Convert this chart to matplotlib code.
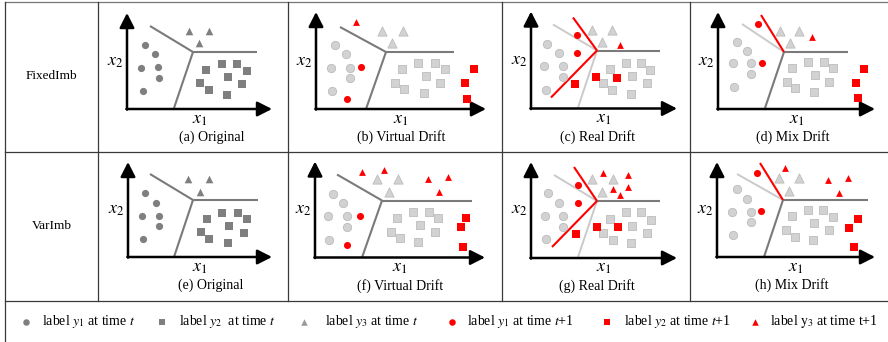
import matplotlib
matplotlib.use('Agg')
import matplotlib.pyplot as plt
import matplotlib.transforms as mtransforms

plt.rcParams['font.family'] = ['Liberation Serif', 'DejaVu Serif']
plt.rcParams['mathtext.fontset'] = 'stix'

# ---- data: each panel in its own units, origin at the axes corner, y up ----
row_labels = ['FixedImb', 'VarImb']
captions = ['(a) Original', '(b) Virtual Drift', '(c) Real Drift', '(d) Mix Drift',
            '(e) Original', '(f) Virtual Drift', '(g) Real Drift', '(h) Mix Drift']

panel_a = dict(
    circles=[(18, 64), (28, 55), (14, 41), (31, 42), (32, 31), (16, 18)],
    triangles=[(62, 78), (82, 78), (72, 66)],
    squares=[(79, 39), (95, 45), (110, 45), (120, 38), (101, 32), (73, 26), (82, 19), (115, 25), (100, 14)],
    junction=(66, 57), dark=[(23, 83), (130, 57), (47, 1)],
)
panel_b = dict(
    circles=[(19, 64), (30, 55), (15, 41), (34, 41), (34, 31), (16, 18)],
    new_circles=[(45, 42), (31, 10)],
    triangles=[(66, 78), (87, 78), (76, 66)],
    new_triangles=[(40, 87)],
    squares=[(86, 40), (102, 46), (119, 46), (129, 40), (110, 33), (79, 26), (88, 20), (124, 26), (108, 16)],
    new_squares=[(158, 40), (149, 26), (151, 10)],
    junction=(70, 57), dark=[(24, 82), (138, 57), (50, 0)],
)
panel_c = dict(
    circles=[(16, 65), (28, 56), (13, 43), (32, 43), (32, 32), (15, 19)],
    new_circles=[(46, 74), (46, 56)],
    triangles=[(61, 79), (81, 79), (71, 67)],
    new_triangles=[(89, 64)],
    squares=[(95, 46), (110, 46), (79, 40), (119, 39), (101, 33), (72, 26), (116, 26), (81, 19), (100, 15)],
    new_squares=[(44, 25), (65, 32), (86, 31)],
    junction=(66, 58), light=[(22, 84), (47, 1)], red=[(42, 91), (20, 11)], dark=[(129, 58)],
)
panel_d = dict(
    circles=[(19, 67), (29, 58), (15, 46), (33, 46), (33, 35), (16, 22)],
    new_circles=[(40, 85), (44, 46)],
    triangles=[(62, 78), (81, 78), (72, 66)],
    new_triangles=[(94, 72)],
    squares=[(90, 47), (106, 47), (74, 41), (115, 41), (97, 34), (69, 27), (111, 27), (77, 21), (96, 17)],
    new_squares=[(146, 40), (138, 26), (140, 11)],
    junction=(66, 57), light=[(24, 85)], red=[(43, 94)], dark=[(130, 57), (47, 1)],
)
panel_e = dict(
    circles=[(17, 64), (28, 54), (14, 41), (31, 41), (31, 31), (15, 18)],
    triangles=[(60, 78), (81, 78), (72, 65)],
    squares=[(79, 38), (94, 44), (110, 44), (119, 38), (101, 31), (73, 25), (81, 18), (116, 24), (100, 14)],
    junction=(65, 57), dark=[(22, 83), (130, 57), (46, 0)],
)
panel_f = dict(
    circles=[(18, 64), (28, 55), (13, 42), (32, 42), (32, 31), (14, 18)],
    new_circles=[(45, 42), (32, 13)],
    triangles=[(62, 79), (83, 79), (74, 66)],
    new_triangles=[(47, 86), (69, 88), (113, 79), (133, 81), (124, 66)],
    squares=[(82, 40), (98, 46), (114, 46), (123, 40), (105, 33), (76, 26), (85, 20), (120, 26), (103, 16)],
    new_squares=[(151, 40), (146, 31), (148, 11)],
    junction=(67, 57), dark=[(22, 83), (157, 57), (47, 0)],
)
panel_g = dict(
    circles=[(17, 65), (28, 55), (14, 42), (32, 42), (32, 31), (15, 19)],
    new_circles=[(47, 73), (47, 55)],
    triangles=[(61, 79), (82, 79), (71, 66)],
    new_triangles=[(72, 85), (97, 83), (82, 69), (97, 71), (89, 63)],
    squares=[(95, 46), (110, 46), (79, 39), (120, 38), (101, 32), (72, 25), (116, 25), (82, 18), (100, 15)],
    new_squares=[(45, 24), (66, 31), (87, 31)],
    junction=(66, 57), light=[(23, 83), (47, 1)], red=[(43, 91), (21, 11)], dark=[(129, 57)],
)
panel_h = dict(
    circles=[(20, 68), (30, 58), (15, 45), (34, 45), (34, 35), (16, 22)],
    new_circles=[(40, 84), (44, 46)],
    triangles=[(62, 79), (82, 79), (72, 66)],
    new_triangles=[(68, 89), (111, 77), (131, 79), (122, 64)],
    squares=[(91, 47), (106, 47), (75, 41), (116, 40), (97, 34), (69, 27), (112, 27), (78, 20), (96, 17)],
    new_squares=[(141, 38), (132, 29), (137, 10)],
    junction=(66, 57), light=[(20, 83)], red=[(43, 94)], dark=[(151, 57), (47, 0)],
)
panels = [panel_a, panel_b, panel_c, panel_d, panel_e, panel_f, panel_g, panel_h]

legend_labels = [r'label $y_1$ at time $t$', r'label $y_2$  at time $t$', r'label $y_3$ at time $t$',
                 r'label $y_1$ at time $t$+1', r'label $y_2$ at time $t$+1', r'label $\mathrm{y}_3$ at time t+1']

# ---- layout (pixels of the 888x342 canvas) ----
origins = [(127, 109), (316, 109), (531, 108.5), (718, 109),
           (128, 257), (315, 257.5), (531, 258), (717, 257)]
axis_len = [(145, 96), (170, 97), (146, 97), (157, 97),
            (144, 95), (170, 96), (146, 96), (158, 95)]
caption_dx = [85, 85, 66, 75, 83, 85, 66, 75]

DARK = '#7f7f7f'
LIGHT = '#d2d2d2'
LIGHT_EDGE = '#bcbcbc'
RED = '#ff0000'

fig = plt.figure(figsize=(8.88, 3.42), dpi=100)
ax = fig.add_axes([0, 0, 1, 1])
ax.set_xlim(0, 888)
ax.set_ylim(342, 0)
ax.axis('off')

# table grid
grid = dict(color='#3a3a3a', lw=0.9)
ax.plot([5, 888], [2, 2], color='#777777', lw=0.9)
ax.plot([5, 888], [152, 152], **grid)
ax.plot([5, 888], [301, 301], **grid)
ax.plot([5, 5], [2, 342], **grid)
for xv in [98, 288, 502, 690]:
    ax.plot([xv, xv], [2, 301], **grid)

ax.text(51.5, 76, row_labels[0], ha='center', va='center', fontsize=9.5)
ax.text(51.5, 226, row_labels[1], ha='center', va='center', fontsize=9.5)


def pts(lst):
    return [p[0] for p in lst], [p[1] for p in lst]


for i, p in enumerate(panels):
    ox, oy = origins[i]
    tr = mtransforms.Affine2D().scale(1, -1).translate(ox, oy) + ax.transData
    xl, yl = axis_len[i]
    original = i % 4 == 0

    # axes with arrow heads
    arrow = dict(arrowstyle='-|>,head_length=0.55,head_width=0.28', color='k', lw=1.8,
                 mutation_scale=16, shrinkA=0, shrinkB=0)
    ax.annotate('', xy=(xl, 0), xytext=(-0.6, 0), xycoords=tr, textcoords=tr, arrowprops=arrow)
    ax.annotate('', xy=(0, yl), xytext=(0, -0.6), xycoords=tr, textcoords=tr, arrowprops=arrow)

    # decision boundaries
    jx, jy = p['junction']
    for key, col, lw in [('light', '#cacaca', 1.4), ('dark', '#7a7a7a', 1.5), ('red', RED, 1.5)]:
        for ex, ey in p.get(key, []):
            ax.plot([jx, ex], [jy, ey], color=col, lw=lw, transform=tr, zorder=2,
                    solid_capstyle='butt')

    # points at time t
    if original:
        kw = dict(color=DARK, linewidths=0, transform=tr, zorder=3)
        ax.scatter(*pts(p['circles']), marker='o', s=27, **kw)
        ax.scatter(*pts(p['squares']), marker='s', s=27, **kw)
        ax.scatter(*pts(p['triangles']), marker='^', s=30, **kw)
    else:
        kw = dict(color=LIGHT, edgecolors=LIGHT_EDGE, linewidths=0.6, transform=tr, zorder=3)
        ax.scatter(*pts(p['circles']), marker='o', s=36, **kw)
        ax.scatter(*pts(p['squares']), marker='s', s=38, **kw)
        ax.scatter(*pts(p['triangles']), marker='^', s=44, **kw)
        # points at time t+1
        kw = dict(color=RED, linewidths=0, transform=tr, zorder=4)
        ax.scatter(*pts(p['new_circles']), marker='o', s=26, **kw)
        ax.scatter(*pts(p['new_squares']), marker='s', s=28, **kw)
        ax.scatter(*pts(p['new_triangles']), marker='^', s=24, **kw)

    ax.text(-12, 48, r'$x_2$', transform=tr, ha='center', va='center', fontsize=13)
    ax.text(xl / 2, -10, r'$x_1$', transform=tr, ha='center', va='center', fontsize=13)
    ax.text(caption_dx[i], -28.5, captions[i], transform=tr, ha='center', va='center', fontsize=10)

# legend row
leg_y = 321.7
leg_marker_x = [26, 162, 304, 451.7, 606.7, 755]
leg_text_x = [41.7, 179, 325, 467.3, 624, 770]
leg_markers = ['o', 's', '^', 'o', 's', '^']
leg_colors = [DARK, DARK, '#9a9a9a', RED, RED, RED]
for mx, tx, mk, col, lab in zip(leg_marker_x, leg_text_x, leg_markers, leg_colors, legend_labels):
    ax.scatter([mx], [leg_y], marker=mk, s=22, color=col, linewidths=0)
    ax.text(tx, leg_y, lab, ha='left', va='center', fontsize=10)

fig.savefig('out.png', dpi=100)
